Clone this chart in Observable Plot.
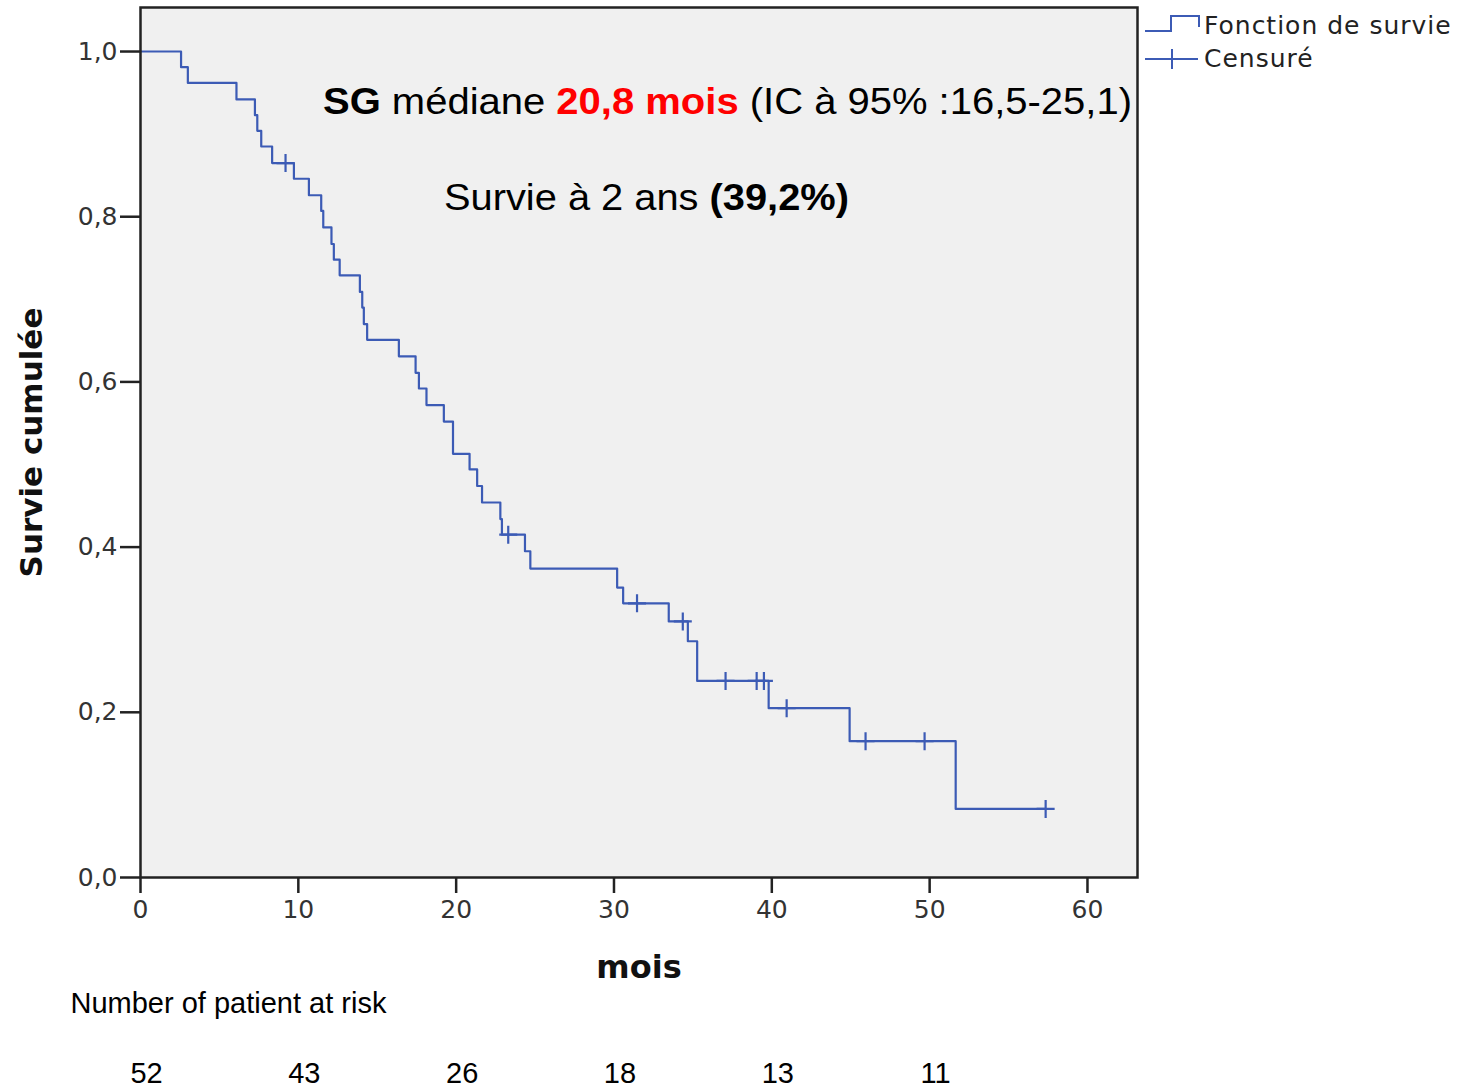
<!DOCTYPE html>
<html><head><meta charset="utf-8">
<script src="https://cdn.jsdelivr.net/npm/d3@7"></script>
<script src="https://cdn.jsdelivr.net/npm/@observablehq/plot@0.6"></script>
<style>
body{margin:0;background:#fff;}
#wrap{position:relative;width:1466px;height:1088px;}
#wrap svg{position:absolute;left:0;top:0;}
</style></head><body><div id="wrap"></div>
<script>
// Kaplan-Meier steps
const eventTimes = [0, 2.57, 3.0, 6.08, 7.25, 7.4, 7.65, 8.34, 9.72, 10.67, 11.45, 11.58, 12.1, 12.25, 12.62, 13.9, 14.05, 14.15, 14.36, 16.37, 17.43, 17.64, 18.12, 19.22, 19.8, 20.85, 21.33, 21.64, 22.8, 22.9, 24.36, 24.7, 30.2, 30.58, 33.47, 34.68, 35.27, 39.8, 44.93, 51.65];
const eventSurv = [1.0, 0.981, 0.962, 0.942, 0.923, 0.904, 0.885, 0.865, 0.846, 0.826, 0.807, 0.787, 0.767, 0.748, 0.729, 0.709, 0.690, 0.670, 0.651, 0.631, 0.611, 0.592, 0.572, 0.552, 0.513, 0.494, 0.474, 0.454, 0.434, 0.415, 0.395, 0.374, 0.351, 0.332, 0.310, 0.286, 0.238, 0.205, 0.165, 0.083];
const censorTimes = [9.19, 23.3, 31.46, 34.36, 37.07, 39.04, 39.5, 40.94, 45.94, 49.68, 57.35];
const censorSurv = [0.865, 0.415, 0.332, 0.310, 0.238, 0.238, 0.238, 0.205, 0.165, 0.165, 0.083];
const riskTimes = [0, 10, 20, 30, 40, 50];
const riskCounts = [52, 43, 26, 18, 13, 11];
const xTicks = [0, 10, 20, 30, 40, 50, 60];
const yTicks = [0, 0.2, 0.4, 0.6, 0.8, 1.0];

const lineColor = "#3c5bb5";
const steps = eventTimes.map((t, i) => ({t, s: eventSurv[i]}));
steps.push({t: censorTimes[censorTimes.length - 1], s: censorSurv[censorSurv.length - 1]});
const censors = censorTimes.map((t, i) => ({t, s: censorSurv[i]}));
const risk = riskTimes.map((t, i) => ({t, n: riskCounts[i]}));
const plusSymbol = {draw(ctx, size) {const r = Math.sqrt(size / Math.PI); ctx.moveTo(-r, 0); ctx.lineTo(r, 0); ctx.moveTo(0, -r); ctx.lineTo(0, r);}};

const plot = Plot.plot({
  width: 1466, height: 1088,
  marginLeft: 140, marginRight: 329, marginTop: 7, marginBottom: 211,
  style: {fontFamily: "DejaVu Sans", fontSize: "25px", color: "#222", background: "transparent"},
  x: {domain: [0, 63.17]},
  y: {domain: [0, 1.0533]},
  marks: [
    Plot.frame({fill: "#f0f0f0", stroke: null}),
    Plot.line(steps, {x: "t", y: "s", curve: "step-after", stroke: lineColor, strokeWidth: 2.2}),
    Plot.dot(censors, {x: "t", y: "s", symbol: plusSymbol, r: 9, stroke: lineColor, strokeWidth: 2.2, fill: "none"}),
    Plot.frame({stroke: "#222", strokeWidth: 2.5}),
    Plot.axisX({ticks: xTicks, tickSize: 16, tickPadding: 7, strokeWidth: 2.5, label: null, tickFormat: d => String(d), fill: "#333"}),
    Plot.axisY({ticks: yTicks, tickSize: 20, tickPadding: 3, strokeWidth: 2.5, label: null, tickFormat: d => d.toFixed(1).replace(".", ","), fill: "#333"}),
    Plot.text(["mois"], {frameAnchor: "bottom", lineAnchor: "middle", dy: 90, fontWeight: "bold", fontSize: 32, fill: "#111"}),
    Plot.text(["Survie cumulée"], {frameAnchor: "left", textAnchor: "middle", lineAnchor: "middle", dx: -108, rotate: -90, fontWeight: "bold", fontSize: 31, fill: "#111"}),
    Plot.text(["Number of patient at risk"], {frameAnchor: "bottom-left", textAnchor: "start", lineAnchor: "middle", dx: -70, dy: 126, fontFamily: "Liberation Sans", fontSize: 29, fill: "#000"}),
    Plot.text(risk, {x: "t", text: "n", frameAnchor: "bottom", lineAnchor: "middle", dy: 196, dx: 6, fontFamily: "Liberation Sans", fontSize: 29, fill: "#000"})
  ]
});
const wrap = document.getElementById("wrap");
wrap.appendChild(plot);

const ov = document.createElementNS("http://www.w3.org/2000/svg", "svg");
ov.setAttribute("width", 1466); ov.setAttribute("height", 1088);
ov.innerHTML = `
<g font-family="Liberation Sans, Arial, sans-serif" fill="#000">
  <text x="323" y="114" font-size="37" textLength="809" lengthAdjust="spacingAndGlyphs"><tspan font-weight="bold">SG</tspan> médiane <tspan font-weight="bold" fill="#ff0000">20,8 mois</tspan> (IC à 95% :16,5-25,1)</text>
  <text x="444" y="210" font-size="37" textLength="405" lengthAdjust="spacingAndGlyphs">Survie à 2 ans <tspan font-weight="bold">(39,2%)</tspan></text>
</g>
<g fill="none" stroke="${lineColor}" stroke-width="2">
  <path d="M1145,31H1171V16H1199V27"/>
  <path d="M1145,59H1198M1172,49V69"/>
</g>
<g font-family="DejaVu Sans" font-size="25" fill="#222" letter-spacing="1">
  <text x="1204" y="34">Fonction de survie</text>
  <text x="1204" y="67">Censuré</text>
</g>`;
wrap.appendChild(ov);
</script>
</body></html>
